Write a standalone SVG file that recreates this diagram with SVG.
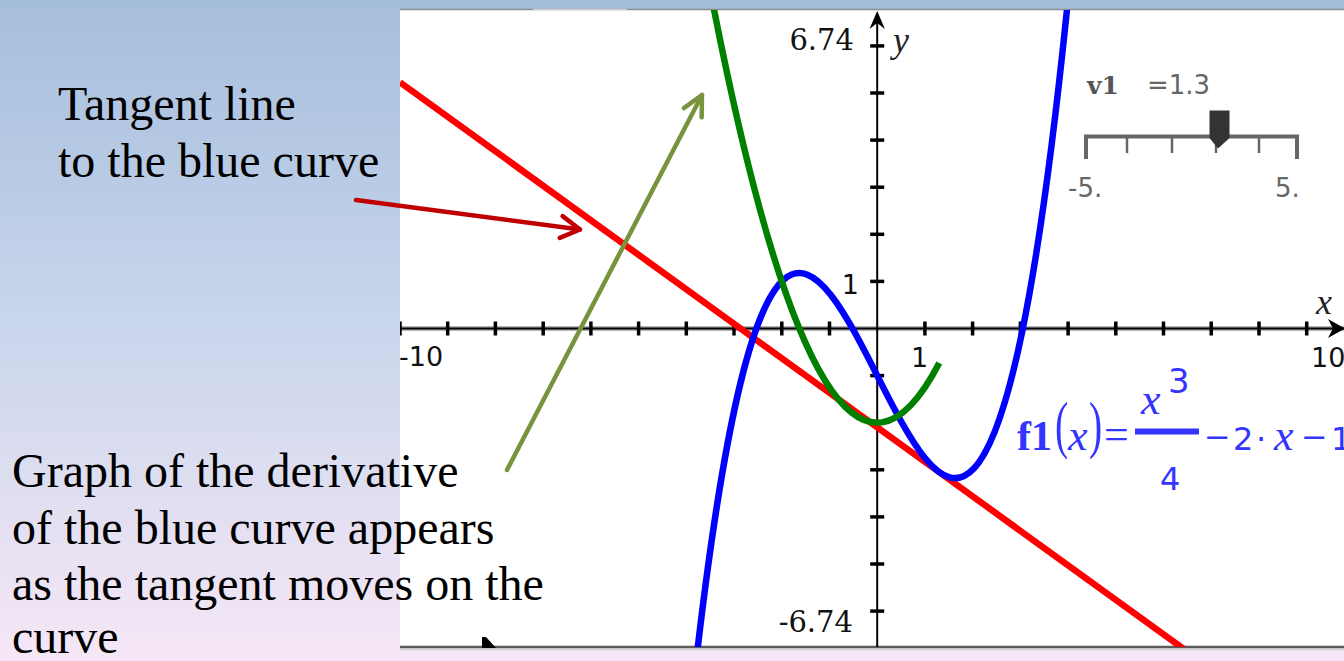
<svg xmlns="http://www.w3.org/2000/svg" width="1344" height="661" viewBox="0 0 1344 661">
<defs>
<linearGradient id="bg" x1="0" y1="0" x2="0" y2="1">
<stop offset="0" stop-color="#a5bedc"/>
<stop offset="0.5" stop-color="#cad6ec"/>
<stop offset="1" stop-color="#f6e7f6"/>
</linearGradient>
<clipPath id="plot"><rect x="400" y="10" width="944" height="637"/></clipPath>
<marker id="arrRed" markerUnits="userSpaceOnUse" orient="auto" markerWidth="40" markerHeight="40" viewBox="-30 -20 40 40" refX="0" refY="0" overflow="visible">
<path d="M-19,-11 L0,0 L-19,11" fill="none" stroke="#c00000" stroke-width="4.5" stroke-linecap="round" stroke-linejoin="round"/>
</marker>
<marker id="arrGreen" markerUnits="userSpaceOnUse" orient="auto" markerWidth="40" markerHeight="40" viewBox="-30 -20 40 40" refX="0" refY="0" overflow="visible">
<path d="M-20,-10 L0,0 L-20,10" fill="none" stroke="#77933c" stroke-width="4.5" stroke-linecap="round" stroke-linejoin="round"/>
</marker>
</defs>
<style>
.lbl{font-family:"Liberation Serif","Times New Roman",serif;font-size:48px;fill:#000}
.ax{font-family:"DejaVu Serif",serif;font-size:29px;fill:#111}
.axs{font-family:"DejaVu Sans",sans-serif;font-size:27px;fill:#111}
.axv{font-family:"Liberation Serif",serif;font-style:italic;font-size:36px;fill:#222}
.tick{stroke:#000;stroke-width:3.5}
.sl{font-family:"DejaVu Sans",sans-serif;font-size:26px;fill:#666}
.fm{fill:#3434ff}
.fs{font-family:"DejaVu Sans",sans-serif;font-size:32px}
.fi{font-family:"Liberation Serif",serif;font-style:italic;font-size:44px}
.fp{font-family:"Liberation Serif",serif;font-size:64px}
</style>

<rect id="background" x="0" y="0" width="1344" height="661" fill="url(#bg)"/>

<g id="graph-panel">
<rect x="400" y="10" width="944" height="637" fill="#ffffff"/>
<line x1="400" y1="9.5" x2="1344" y2="9.5" stroke="#8c8c8c" stroke-width="1.5"/>
<line x1="533" y1="9.5" x2="627" y2="9.5" stroke="#d0d0d0" stroke-width="1.5"/>
<line x1="400" y1="647" x2="1344" y2="647" stroke="#5a5a5a" stroke-width="2.5"/>
<line x1="400" y1="649.5" x2="1344" y2="649.5" stroke="#cfcfcf" stroke-width="1.5"/>
</g>

<g id="axes" clip-path="url(#plot)">
<line x1="400" y1="328.5" x2="1344" y2="328.5" stroke="#b5b5b5" stroke-width="5"/>
<line x1="400" y1="328.5" x2="1344" y2="328.5" stroke="#000" stroke-width="2"/>
<line x1="877.2" y1="14" x2="877.2" y2="647" stroke="#000" stroke-width="2"/>
<path d="M877.2,11 L869.5,29 L877.2,23 L884.9,29 Z" fill="#000"/>
<path d="M1345,328.5 L1328,319 L1333,328.5 L1328,338 Z" fill="#000"/>
<g class="tick">
<line x1="400" y1="321.5" x2="400" y2="335.5"/>
<line x1="447.7" y1="321.5" x2="447.7" y2="335.5"/>
<line x1="495.4" y1="321.5" x2="495.4" y2="335.5"/>
<line x1="543.2" y1="321.5" x2="543.2" y2="335.5"/>
<line x1="590.9" y1="321.5" x2="590.9" y2="335.5"/>
<line x1="638.6" y1="321.5" x2="638.6" y2="335.5"/>
<line x1="686.3" y1="321.5" x2="686.3" y2="335.5"/>
<line x1="734" y1="321.5" x2="734" y2="335.5"/>
<line x1="781.8" y1="321.5" x2="781.8" y2="335.5"/>
<line x1="829.5" y1="321.5" x2="829.5" y2="335.5"/>
<line x1="924.9" y1="321.5" x2="924.9" y2="335.5"/>
<line x1="972.6" y1="321.5" x2="972.6" y2="335.5"/>
<line x1="1020.4" y1="321.5" x2="1020.4" y2="335.5"/>
<line x1="1068.1" y1="321.5" x2="1068.1" y2="335.5"/>
<line x1="1115.8" y1="321.5" x2="1115.8" y2="335.5"/>
<line x1="1163.5" y1="321.5" x2="1163.5" y2="335.5"/>
<line x1="1211.2" y1="321.5" x2="1211.2" y2="335.5"/>
<line x1="1259" y1="321.5" x2="1259" y2="335.5"/>
<line x1="1306.7" y1="321.5" x2="1306.7" y2="335.5"/>
<line x1="870.2" y1="45.9" x2="884.2" y2="45.9"/>
<line x1="870.2" y1="93" x2="884.2" y2="93"/>
<line x1="870.2" y1="140.1" x2="884.2" y2="140.1"/>
<line x1="870.2" y1="187.2" x2="884.2" y2="187.2"/>
<line x1="870.2" y1="234.3" x2="884.2" y2="234.3"/>
<line x1="870.2" y1="281.4" x2="884.2" y2="281.4"/>
<line x1="870.2" y1="375.6" x2="884.2" y2="375.6"/>
<line x1="870.2" y1="422.7" x2="884.2" y2="422.7"/>
<line x1="870.2" y1="469.8" x2="884.2" y2="469.8"/>
<line x1="870.2" y1="516.9" x2="884.2" y2="516.9"/>
<line x1="870.2" y1="564" x2="884.2" y2="564"/>
<line x1="870.2" y1="611.1" x2="884.2" y2="611.1"/>
</g>
</g>

<g id="axis-labels">
<text class="ax" x="854" y="50" text-anchor="end">6.74</text>
<text class="ax" x="853" y="632" text-anchor="end">-6.74</text>
<text class="axv" x="893" y="52">y</text>
<text class="axv" x="1316" y="314">x</text>
<text class="axs" x="399" y="366">-10</text>
<text class="axs" x="911" y="367">1</text>
<text class="axs" x="1311" y="367">10</text>
<text class="axs" x="859" y="294" text-anchor="end">1</text>
</g>

<g id="curves" clip-path="url(#plot)" fill="none" stroke-width="6.5">
<line id="tangent-line" x1="400" y1="82.3" x2="1187.4" y2="651.6" stroke="#ff0000"/>
<path id="blue-curve" d="M691.09,706.71 C817.55,-467.49 944.01,1260.70 1070.47,-25.11" stroke="#0000ff"/>
<path id="derivative-curve" d="M710.18,-10.03 Q824.71,583.43 939.24,363" stroke="#008000"/>
</g>

<g id="slider">
<text x="1087" y="94" font-family="DejaVu Serif" font-weight="bold" font-size="25" fill="#555">v1</text>
<text class="sl" x="1147" y="94">=1.3</text>
<path d="M1086,159 L1086,136.5 L1297,136.5 L1297,159" fill="none" stroke="#666" stroke-width="4"/>
<g stroke="#666" stroke-width="2.5">
<line x1="1127" y1="136" x2="1127" y2="153"/>
<line x1="1172" y1="136" x2="1172" y2="153"/>
<line x1="1216" y1="136" x2="1216" y2="153"/>
<line x1="1259" y1="136" x2="1259" y2="153"/>
</g>
<path d="M1209.5,110.5 L1229.5,110.5 L1229.5,138 L1218,148.5 L1209.5,138 Z" fill="#333"/>
<text class="sl" x="1068" y="197">-5.</text>
<text class="sl" x="1275" y="197">5.</text>
</g>

<g id="formula" class="fm">
<text x="1017" y="450" font-family="Liberation Serif" font-weight="bold" font-size="42">f1</text>
<text class="fp" transform="translate(1055,446) scale(0.62,1)">(</text>
<text class="fi" x="1068" y="450">x</text>
<text class="fp" transform="translate(1089,446) scale(0.62,1)">)</text>
<text x="1104" y="449" font-family="Liberation Serif" font-size="44">=</text>
<rect x="1135" y="428.5" width="64" height="6"/>
<text class="fi" x="1141" y="414">x</text>
<text x="1168" y="393" font-family="DejaVu Sans" font-size="34">3</text>
<text class="fs" x="1160" y="490">4</text>
<text class="fs" x="1204" y="448">−</text>
<text class="fs" x="1233" y="450">2</text>
<text class="fs" x="1256" y="450">·</text>
<text class="fi" x="1274" y="450">x</text>
<text class="fs" x="1301" y="448">−</text>
<text class="fs" x="1331" y="450">1</text>
</g>

<path id="cursor" d="M482,637 L486,637 L496,648 L482,648 Z" fill="#000"/>

<g id="label-tangent">
<text class="lbl" x="58" y="120">Tangent line</text>
<text class="lbl" x="58" y="177">to the blue curve</text>
</g>

<g id="label-derivative">
<text class="lbl" x="12" y="487">Graph of the derivative</text>
<text class="lbl" x="12" y="544">of the blue curve appears</text>
<text class="lbl" x="12" y="600">as the tangent moves on the</text>
<text class="lbl" x="12" y="653">curve</text>
</g>

<g id="connectors" fill="none" stroke-width="4.5" stroke-linecap="round">
<line x1="356" y1="200" x2="580" y2="229.5" stroke="#c00000" marker-end="url(#arrRed)"/>
<line x1="507" y1="470" x2="702" y2="95" stroke="#77933c" marker-end="url(#arrGreen)"/>
</g>
</svg>
